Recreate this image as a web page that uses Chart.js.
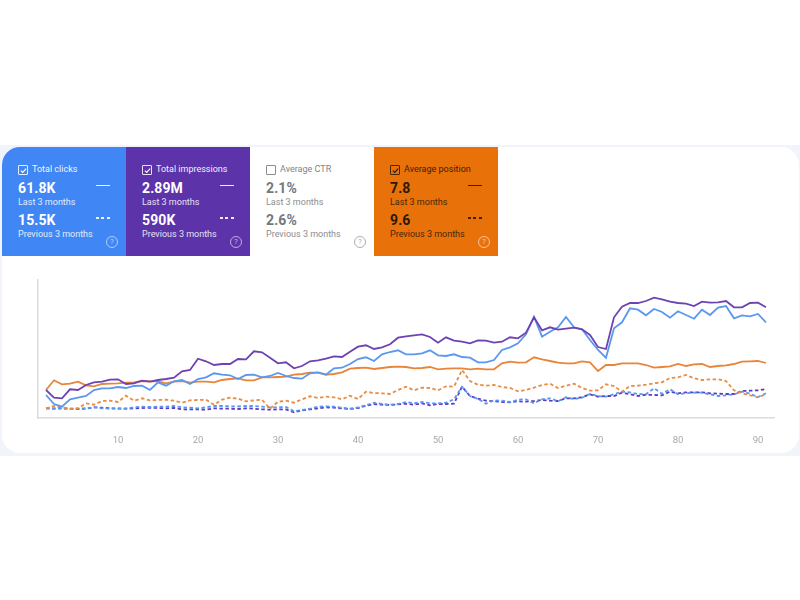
<!DOCTYPE html>
<html>
<head>
<meta charset="utf-8">
<title>Performance</title>
<script src="https://cdn.jsdelivr.net/npm/chart.js@4"></script>
<style>
  html, body { margin: 0; padding: 0; background: #fff; }
  body { width: 800px; height: 600px; position: relative; overflow: hidden; font-family: Roboto, sans-serif; }
  #rim { position: absolute; left: 0; top: 145px; width: 800px; height: 311px; background: #f1f4fb; }
  #panel { position: absolute; left: 2px; top: 147px; width: 797px; height: 306px; background: #fff; border-radius: 18px; }
  #cards { position: absolute; left: 2px; top: 147px; width: 496px; height: 109px; display: flex; border-top-left-radius: 18px; overflow: hidden; }
  .card { width: 124px; height: 109px; position: relative; color: #fff; }
  .card div, .card svg { position: absolute; white-space: nowrap; }
  .name { left: 30px; top: 16px; font-size: 9px; line-height: 12px; opacity: 0.92; }
  .box { left: 16px; top: 18px; width: 7.5px; height: 7.5px; border: 1px solid currentColor; border-radius: 1px; opacity: 0.85; }
  .val { left: 16px; font-size: 14px; font-weight: 700; line-height: 16px; letter-spacing: 0.1px; }
  .sub { left: 16px; font-size: 9px; line-height: 12px; opacity: 0.85; }
  .dash { left: 94px; width: 14px; height: 0; border-top: 1.5px solid currentColor; opacity: 0.9; }
  .dash.prev { border-top: 0; height: 1.5px; background: repeating-linear-gradient(90deg, currentColor 0 3px, transparent 3px 5.5px); }
  .help { left: 104px; top: 88.5px; width: 10px; height: 10px; line-height: 10px; border: 1px solid currentColor; border-radius: 50%; font-size: 8px; text-align: center; opacity: 0.6; }
  #chart { position: absolute; left: 0; top: 0; }
</style>
</head>
<body>
<div id="rim"></div>
<div id="panel"></div>
<div id="cards"></div>
<canvas id="chart" width="800" height="600"></canvas>
<script>
const days = Array.from({ length: 91 }, (_, i) => i + 1);

const clicks = [
  23, 14, 11.3, 18.7, 20.3, 22, 28, 29.7, 29.7, 31, 30, 32, 32.3, 28, 35.7, 32.3, 36.7, 38, 34, 39, 40.7, 44.7, 43.3, 42.7, 39, 43, 43.3, 40.7, 42, 45,
  42, 40, 39.3, 44.7, 45.7, 43.3, 49.7, 50.3, 54, 59, 60.7, 57, 63.7, 66, 67.7, 63.7, 63.7, 64.7, 67.7, 62.7, 62, 63.7, 61, 60.3, 55.7, 55.7, 58, 68, 70.7, 74.7,
  83.7, 101.3, 81.3, 86.3, 90.7, 101, 90.7, 88.7, 78, 68, 60.3, 89.7, 95.7, 109.7, 108.3, 102.7, 109, 106, 100.3, 106.7, 103, 99.3, 108.3, 103, 110.3, 112, 99.7, 102.7, 101.7, 104, 95.7,
];
const impressions = [
  28, 20.3, 19.7, 28.7, 28, 33, 35.7, 36.3, 38.3, 38.7, 34, 34.7, 37.3, 36.3, 38, 39, 40.3, 46.7, 48, 59.3, 56.7, 53, 54, 54, 59, 58.7, 66.7, 65.7, 60.3, 54.7,
  55.7, 49.7, 52, 56.7, 57.7, 59.3, 61.7, 61, 66.3, 71.3, 72.7, 69, 70.7, 73.7, 80.3, 81.7, 82.7, 83.7, 81, 75.3, 80.7, 77.3, 76.3, 74.7, 77.7, 77.3, 75.3, 76.3, 80.7, 79.7,
  85.3, 100.7, 87.7, 90.7, 88.3, 89.3, 90.3, 88.7, 83, 71, 69, 100.7, 111.3, 115, 115, 117, 120.3, 118.7, 116.3, 115, 114.3, 112, 116.3, 115.3, 115.7, 117, 110.7, 110.7, 115, 115.3, 110.7,
];
const position = [
  28, 37.7, 33.7, 34.3, 36.3, 32.7, 31.7, 34, 34.3, 34.7, 35.3, 35.7, 37, 36.7, 36.7, 34.7, 36.3, 37, 35.3, 36.3, 36.3, 35.7, 38, 39, 39.7, 37.7, 37.7, 40.7, 40.7, 41,
  41.3, 43.3, 44, 45.3, 45.3, 43.3, 44, 45.7, 49.3, 50, 50.3, 49, 50, 51, 51.3, 51, 49.7, 50, 51, 48.7, 49.3, 49.7, 49.7, 48.7, 49.3, 48.7, 48.7, 54.7, 56.3, 55.3,
  55.7, 60.7, 58.7, 57, 55.3, 54.7, 54.7, 56.7, 55.7, 47, 53, 53, 54.7, 54.7, 54.7, 53, 50.3, 51, 51.7, 54, 52, 53.7, 54, 51, 52, 52.7, 54, 56.3, 56.7, 57, 55,
];
const clicksPrev = [
  9.7, 9.7, 9, 9.3, 9.3, 9.7, 10.7, 9.7, 9.7, 9.7, 9.3, 10.7, 11.3, 11, 11.3, 11.3, 12, 10.7, 10.3, 9.7, 10.7, 12, 12, 11.7, 11.7, 12, 12, 11.3, 10.7, 10.7,
  11, 6.7, 8, 9.3, 11.3, 11.7, 11.3, 10.3, 9.3, 10.7, 12.7, 15.3, 14, 13.3, 14, 16, 14.7, 16, 14.7, 14.7, 15.3, 18.7, 31.3, 22, 19, 14.3, 17.7, 17.3, 16, 18.3,
  18.7, 14.7, 18.7, 19.7, 16.7, 20.7, 19, 20.3, 24, 22, 21.3, 23.7, 26.3, 25.7, 24, 23.7, 29.7, 24.3, 28.7, 23.7, 24.7, 25.3, 25.3, 23.7, 22, 22.7, 23.7, 26.3, 24.3, 21, 24.7,
];
const impressionsPrev = [
  9.7, 9.3, 10.3, 9.3, 9, 9.3, 10.7, 10.3, 9.7, 9.3, 9.3, 9.7, 10, 10.3, 10, 9.7, 10, 8.7, 8.7, 8.7, 8.3, 9.7, 9.3, 9.3, 9, 9.7, 9.3, 8.7, 8.3, 8.7,
  8.7, 5.7, 7.7, 8.7, 9.7, 10.7, 10.3, 9.7, 9, 10, 12.3, 14, 13.3, 13, 13.7, 14.3, 13.3, 14.7, 12.7, 14, 14, 14.3, 31.3, 22, 19.3, 17.3, 16.7, 16, 15.7, 16.7,
  16.3, 17, 18, 17.3, 17, 19.7, 19.7, 20.7, 23.7, 21.3, 22, 22, 25.3, 23.7, 22, 23.3, 23, 22.7, 26.3, 24.7, 25.7, 25.7, 25.7, 24.7, 24.3, 24, 24, 27, 27.3, 27.7, 29,
];
const positionPrev = [
  9.7, 12, 10.7, 9.3, 9.7, 14.7, 13.3, 17, 17.3, 16, 22.3, 17.3, 19.7, 17.7, 18, 18.3, 17.3, 15.3, 17.7, 18, 18.3, 13.3, 18.3, 20.3, 19.3, 16.7, 17.7, 18.3, 9.3, 16.3,
  17.3, 15.3, 18.7, 21.7, 20, 21.3, 20.7, 18.7, 22.3, 19, 26.3, 25, 24.7, 24, 28, 31.3, 27.7, 30.3, 30, 27.7, 31.7, 31.3, 48, 37, 33.3, 32.3, 33, 31, 30, 26.7,
  28, 30.3, 33, 34.3, 30, 32.3, 34.3, 30, 27.3, 27.7, 33.7, 32, 26.3, 32, 32.3, 33.3, 34.7, 35.7, 40, 40.7, 43, 39.7, 38, 38.7, 38.7, 37, 27.7, 24.7, 22.7, 20.7, 23.7,
];

const cardNames = ["Total clicks", "Total impressions", "Average CTR", "Average position"];
const cardLast = ["61.8K", "2.89M", "2.1%", "7.8"];
const cardPrev = ["15.5K", "590K", "2.6%", "9.6"];
const cardBg = ["#4086f4", "#5d33a9", "#ffffff", "#e8710a"];
const cardFg = ["#ffffff", "#ffffff", "#75787d", "#2a1a08"];
const cardChecked = [true, true, false, true];

const cards = document.getElementById("cards");
cardNames.forEach((name, i) => {
  const card = document.createElement("div");
  card.className = "card";
  card.style.background = cardBg[i];
  card.style.color = cardFg[i];
  const check = cardChecked[i]
    ? '<svg style="left:17.5px;top:19.5px" width="7" height="7" viewBox="0 0 8 8"><path d="M1 4.2 L3.1 6.2 L7 1.8" fill="none" stroke="currentColor" stroke-width="1.3"/></svg>'
    : "";
  const lines = cardChecked[i]
    ? '<div class="dash" style="top:38px"></div><div class="dash prev" style="top:70px"></div>'
    : "";
  card.innerHTML =
    '<div class="box"></div>' + check +
    '<div class="name">' + name + "</div>" +
    '<div class="val" style="top:33px">' + cardLast[i] + "</div>" +
    '<div class="sub" style="top:49px">Last 3 months</div>' +
    '<div class="val" style="top:65px">' + cardPrev[i] + "</div>" +
    '<div class="sub" style="top:81px">Previous 3 months</div>' +
    lines +
    '<div class="help"' + (i === 3 ? ' style="color:#fff"' : "") + ">?</div>";
  cards.appendChild(card);
});

function serie(label, data, color, dashed) {
  return {
    label: label,
    data: data,
    borderColor: color,
    borderWidth: 1.8,
    borderDash: dashed ? [3.5, 2.5] : [],
    pointRadius: 0,
    tension: 0,
    fill: false,
  };
}

new Chart(document.getElementById("chart").getContext("2d"), {
  type: "line",
  data: {
    labels: days,
    datasets: [
      serie("Impressions", impressions, "#6d43b3", false),
      serie("Clicks", clicks, "#5a97f0", false),
      serie("Position", position, "#e8853a", false),
      serie("Position previous", positionPrev, "#ea8d42", true),
      serie("Clicks previous", clicksPrev, "#5a97f0", true),
      serie("Impressions previous", impressionsPrev, "#5a3cc0", true),
    ],
  },
  options: {
    responsive: false,
    animation: false,
    layout: { padding: { top: 280, right: 26, bottom: 0, left: 0 } },
    plugins: { legend: { display: false }, tooltip: { enabled: false } },
    scales: {
      x: {
        type: "linear",
        min: 0,
        max: 92,
        grid: { display: false },
        border: { display: true, color: "#dcdcdc", width: 1.5 },
        afterFit: (scale) => { scale.height = 182; },
        ticks: {
          stepSize: 10,
          includeBounds: false,
          maxRotation: 0,
          padding: 9,
          color: "#a8a8a8",
          font: { size: 9.5, family: "Roboto" },
          callback: (v) => (v === 0 ? "" : v),
        },
      },
      y: {
        min: 0,
        max: 138,
        grid: { display: false },
        border: { display: true, color: "#dcdcdc", width: 1.5 },
        ticks: { display: false },
        afterFit: (scale) => { scale.width = 38; },
      },
    },
  },
});
</script>
</body>
</html>
